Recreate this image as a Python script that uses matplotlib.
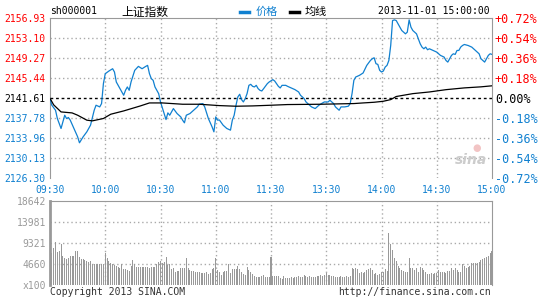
import matplotlib
matplotlib.use('Agg')
import matplotlib.pyplot as plt
from matplotlib.lines import Line2D

plt.rcParams['font.family'] = ['DejaVu Sans Mono', 'Noto Sans CJK SC']

prev_close = 2141.61
price_ticks = [2126.30, 2130.13, 2133.96, 2137.78, 2141.61, 2145.44, 2149.27, 2153.10, 2156.93]
pct_labels = ['-0.72%', '-0.54%', '-0.36%', '-0.18%', '0.00%', '+0.18%', '+0.36%', '+0.54%', '+0.72%']
time_ticks = [0, 30, 60, 90, 120, 150, 180, 210, 240]
time_labels = ['09:30', '10:00', '10:30', '11:00', '11:30', '13:30', '14:00', '14:30', '15:00']
vol_ticks = [0, 4660, 9321, 13981, 18642]
vol_labels = ['x100', '4660', '9321', '13981', '18642']

# minutes after 09:30 (lunch break removed) and price
price_min = [0, 1, 3, 4, 6, 8, 9, 10, 11, 13, 15, 16, 18, 20, 22, 24, 25, 27, 28, 29,
             30, 32, 34, 35, 36, 38, 40, 41, 42, 43, 44, 46, 48, 50, 52, 53, 54, 55, 56, 57,
             59, 60, 62, 63, 64, 65, 67, 69, 71, 72, 73, 74, 76, 78, 80, 81, 83, 84, 86, 88,
             89, 90, 91, 92, 94, 96, 98, 99, 100, 101, 102, 103, 104, 105, 106, 107, 108, 109, 110, 111,
             112, 113, 114, 115, 116, 118, 119, 121, 122, 123, 124, 125, 126, 128, 129, 131, 133, 135, 136, 138,
             139, 141, 142, 144, 146, 148, 149, 151, 152, 154, 155, 156, 157, 158, 160, 162, 163, 164, 165, 166,
             168, 170, 172, 174, 175, 176, 177, 178, 179, 180, 181, 182, 183, 184, 185, 186, 187, 188, 189, 190,
             191, 192, 193, 194, 195, 196, 197, 199, 200, 201, 202, 203, 204, 205, 206, 208, 210, 211, 212, 214,
             215, 216, 217, 218, 219, 220, 221, 222, 223, 224, 225, 227, 229, 231, 233, 234, 236, 237, 238, 239,
             240]
price_val = [2141.45, 2140.23, 2139.27, 2137.68, 2135.78, 2138.32, 2137.68, 2137.88, 2137.37, 2135.78,
             2134.19, 2133.04, 2134.19, 2135.14, 2136.41, 2139.27, 2140.23, 2139.91, 2140.55, 2144.36,
             2146.27, 2146.78, 2147.22, 2146.59, 2144.68, 2143.41, 2142.14, 2143.09, 2143.73, 2143.09,
             2144.68, 2146.91, 2147.67, 2147.22, 2147.67, 2147.86, 2146.27, 2145.32, 2145.00, 2143.73,
             2142.45, 2140.86, 2138.64, 2137.49, 2138.77, 2138.32, 2139.59, 2138.64, 2138.00, 2137.37,
             2136.86, 2138.32, 2138.64, 2139.27, 2139.91, 2140.42, 2140.55, 2139.91, 2137.68, 2136.09,
             2135.14, 2138.00, 2137.37, 2137.40, 2136.41, 2135.78, 2135.46, 2137.37, 2138.32, 2140.23,
             2141.82, 2142.33, 2141.31, 2140.86, 2141.50, 2142.45, 2144.04, 2144.23, 2143.85, 2143.73,
             2144.04, 2143.41, 2143.09, 2142.96, 2143.41, 2144.36, 2144.68, 2145.13, 2144.87, 2144.36,
             2143.85, 2143.54, 2144.04, 2144.04, 2143.85, 2143.54, 2143.22, 2142.77, 2142.14, 2141.50,
             2140.86, 2140.23, 2139.91, 2139.59, 2140.23, 2140.67, 2140.86, 2140.86, 2141.18, 2140.55,
             2139.91, 2139.59, 2139.27, 2139.91, 2139.91, 2140.04, 2140.55, 2142.45, 2145.00, 2145.63,
             2145.95, 2146.40, 2147.86, 2148.81, 2149.13, 2149.32, 2148.18, 2148.05, 2146.91, 2146.59,
             2146.78, 2147.54, 2147.86, 2148.81, 2151.67, 2156.44, 2156.57, 2156.44, 2155.81, 2155.17,
             2154.54, 2154.22, 2153.90, 2154.22, 2156.57, 2155.17, 2154.54, 2153.90, 2152.95, 2152.00,
             2151.36, 2151.04, 2151.36, 2150.85, 2151.04, 2150.72, 2150.40, 2150.08, 2149.77, 2149.45,
             2148.81, 2148.49, 2149.13, 2149.77, 2150.08, 2149.96, 2150.72, 2150.72, 2151.36, 2151.67,
             2151.86, 2151.67, 2151.36, 2150.72, 2150.08, 2149.13, 2148.49, 2149.13, 2149.77, 2150.08,
             2149.96]

avg_min = [0, 2, 6, 12, 15, 20, 23, 29, 33, 40, 49, 54, 61, 72, 81, 92, 101, 110, 120, 129,
           147, 165, 170, 176, 181, 185, 188, 197, 206, 215, 225, 234, 240]
avg_val = [2141.55, 2140.30, 2138.95, 2138.76, 2138.32, 2137.37, 2137.24, 2137.69, 2138.51, 2139.14,
           2140.09, 2140.67, 2140.67, 2140.42, 2140.42, 2140.16, 2140.04, 2140.10, 2140.23, 2140.36,
           2140.42, 2140.55, 2140.67, 2140.80, 2140.99, 2141.31, 2141.90, 2142.45, 2142.77, 2143.21,
           2143.55, 2143.75, 2143.95]

# one bar per minute (x100 shares)
volume = [8730, 7030, 8290, 9620, 7400, 7620, 9100, 6440, 6070, 5700, 5920, 6440, 6440, 6440, 7550,
          7550, 6220, 5770, 5700, 5620, 5400, 5180, 5330, 4660, 4590, 4590, 4590, 4590, 4590, 4590,
          7100, 5920, 5330, 4810, 4590, 4440, 4220, 4070, 3700, 4590, 3550, 3550, 3330, 3110, 4290,
          5550, 4590, 4070, 4070, 4070, 4070, 4070, 4070, 4070, 3700, 3920, 3920, 4070, 4590, 5180,
          5400, 4810, 5180, 6140, 4440, 4590, 3550, 3700, 2960, 3110, 3110, 3700, 3850, 3850, 5920,
          3700, 3330, 3110, 3110, 2960, 2960, 2810, 2590, 2590, 2590, 2810, 2370, 2590, 3550, 3850,
          6070, 3330, 2810, 2220, 2810, 3110, 3110, 4590, 2590, 3550, 3550, 3550, 4290, 3550, 2960,
          2370, 2220, 4000, 3330, 2960, 2370, 2070, 1850, 1850, 1850, 2070, 2220, 1850, 1850, 1850,
          6290, 2070, 2070, 2070, 2070, 1630, 1330, 2070, 1630, 1630, 1630, 1850, 1630, 1850, 1850,
          2070, 1850, 1850, 2220, 2070, 1850, 2070, 1850, 1850, 1850, 2070, 2070, 2220, 2070, 2220,
          2660, 2220, 2220, 2070, 2070, 1850, 1850, 1850, 2070, 1850, 1850, 2070, 1850, 2070, 3700,
          3550, 3700, 3550, 2590, 2810, 2590, 2960, 3330, 3550, 3700, 3330, 2370, 2590, 2220, 2520,
          2810, 2810, 3550, 3110, 11470, 9030, 7770, 6070, 5330, 4290, 3850, 3330, 3110, 2960,
          2960, 6070, 3850, 3700, 3330, 3700, 2810, 4000, 3700, 3330, 2810, 2370, 2370, 2590, 2370,
          2590, 2590, 3330, 2810, 2810, 2810, 2590, 3110, 3110, 3850, 3330, 3850, 3330, 2960, 2960,
          4590, 4290, 3850, 4070, 4290, 4810, 4810, 4810, 4810, 5180, 5480, 5770, 6070, 6290, 6510,
          7030, 7550]

blue = '#1080d0'
red = '#ff0000'
grid_gray = '#aaaaaa'
frame_gray = '#999999'
grid_style = (0, (1, 2))

fig = plt.figure(figsize=(5.45, 3.0), dpi=100)
ax = fig.add_axes([50 / 545, 122 / 300, 442 / 545, 160 / 300])
axv = fig.add_axes([50 / 545, 15 / 300, 442 / 545, 84 / 300])

# price panel
for p in price_ticks[1:-1]:
    if p == prev_close:
        continue
    ax.axhline(p, color=grid_gray, lw=1, linestyle=grid_style, zorder=1)
for t in time_ticks[1:-1]:
    ax.axvline(t, color=grid_gray, lw=1, linestyle=grid_style, zorder=1)
ax.axhline(prev_close, color='black', lw=1, linestyle=(0, (2, 2)), zorder=2)
ax.plot(price_min, price_val, color=blue, lw=0.9, zorder=3)
ax.plot(avg_min, avg_val, color='black', lw=0.9, zorder=3)

ax.set_xlim(0, 240)
ax.set_ylim(price_ticks[0], price_ticks[-1])
ax.set_yticks(price_ticks)
ax.set_yticklabels(['%.2f' % p for p in price_ticks])
ax.set_xticks(time_ticks)
ax.set_xticklabels(time_labels)
ax.tick_params(axis='both', length=0, labelsize=7)
ax.tick_params(axis='y', pad=3)
ax.tick_params(axis='x', pad=5, labelcolor=blue)
for lbl, p in zip(ax.get_yticklabels(), price_ticks):
    lbl.set_color(red if p > prev_close else ('black' if p == prev_close else blue))
ax.spines['bottom'].set_visible(False)
for s in ['left', 'top', 'right']:
    ax.spines[s].set_color(frame_gray)

ax2 = ax.twinx()
ax2.set_ylim(price_ticks[0], price_ticks[-1])
ax2.set_yticks(price_ticks)
ax2.set_yticklabels(pct_labels)
ax2.tick_params(axis='y', length=0, labelsize=8.5, pad=2)
for lbl, p in zip(ax2.get_yticklabels(), price_ticks):
    lbl.set_color(red if p > prev_close else ('black' if p == prev_close else blue))
for s in ax2.spines.values():
    s.set_visible(False)

ax.text(0.99, 0.11, 'sina', transform=ax.transAxes, ha='right', va='center',
        fontsize=10, fontstyle='italic', fontweight='bold', color='#cccccc',
        family='DejaVu Sans')
ax.text(0.965, 0.19, '●', transform=ax.transAxes, ha='center', va='center',
        fontsize=7, color='#f2c4c4', family='DejaVu Sans')

# volume panel
for v in vol_ticks[1:-1]:
    axv.axhline(v, color=grid_gray, lw=1, linestyle=grid_style, zorder=1)
for t in time_ticks[1:-1]:
    axv.axvline(t, color=grid_gray, lw=1, linestyle=grid_style, zorder=1)
axv.bar(range(len(volume)), volume, width=0.55, color=frame_gray, linewidth=0,
        antialiased=False, zorder=2)
axv.set_xlim(0, 240)
axv.set_ylim(0, vol_ticks[-1])
axv.set_yticks(vol_ticks)
axv.set_yticklabels(vol_labels)
axv.set_xticks([])
axv.tick_params(axis='y', length=0, labelsize=7, pad=3, labelcolor=frame_gray)
axv.spines['bottom'].set_visible(False)
axv.spines['left'].set_linewidth(2)
for s in ['left', 'top', 'right']:
    axv.spines[s].set_color(frame_gray)

# header and footer
fig.text(50 / 545, 1 - 11 / 300, 'sh000001', fontsize=7, ha='left', va='center')
fig.text(121 / 545, 1 - 12 / 300, '上证指数', fontsize=8.5, ha='left', va='center',
         family=['Noto Sans CJK SC'])
fig.add_artist(Line2D([240 / 545, 249 / 545], [1 - 12 / 300] * 2, color=blue, lw=2.5))
fig.text(256 / 545, 1 - 12 / 300, '价格', fontsize=8, color=blue, ha='left', va='center',
         family=['Noto Sans CJK SC'])
fig.add_artist(Line2D([290 / 545, 299 / 545], [1 - 12 / 300] * 2, color='black', lw=2.5))
fig.text(305 / 545, 1 - 12 / 300, '均线', fontsize=8, color='black', ha='left', va='center',
         family=['Noto Sans CJK SC'])
fig.text(490 / 545, 1 - 11.5 / 300, '2013-11-01 15:00:00', fontsize=7, ha='right', va='center')
fig.text(50 / 545, 1 - 292 / 300, 'Copyright 2013 SINA.COM', fontsize=7, color='#333333',
         ha='left', va='center')
fig.text(491 / 545, 1 - 292 / 300, 'http://finance.sina.com.cn', fontsize=7, color='#333333',
         ha='right', va='center')

fig.savefig('out.png', dpi=100)
plt.close()
